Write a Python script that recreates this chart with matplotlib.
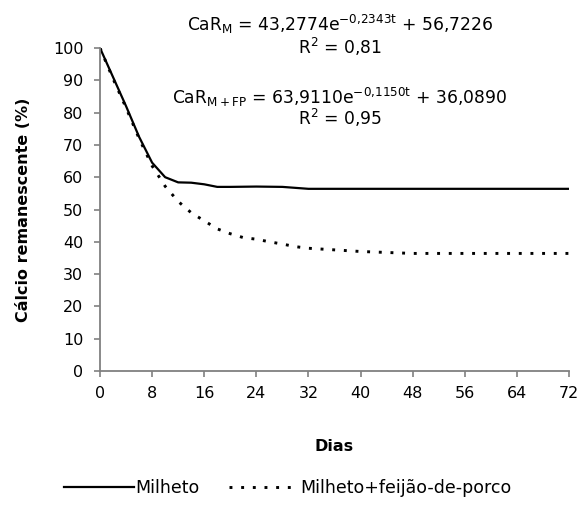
import matplotlib
matplotlib.use("Agg")
import matplotlib.pyplot as plt
from matplotlib.lines import Line2D

plt.rcParams['font.family'] = ['DejaVu Sans']
plt.rcParams['mathtext.fontset'] = 'custom'
plt.rcParams['mathtext.rm'] = 'DejaVu Sans'
plt.rcParams['mathtext.it'] = 'DejaVu Sans'
plt.rcParams['mathtext.bf'] = 'DejaVu Sans:bold'

# Data
dias_m = [0, 2, 4, 6, 8, 10, 12, 14, 16, 18, 20, 24, 28, 32, 36, 40, 48, 56, 64, 72]
milheto = [100, 91, 82, 72.5, 64.5, 60.0, 58.4, 58.3, 57.8, 57.0, 57.0, 57.1, 57.0,
           56.4, 56.4, 56.4, 56.4, 56.4, 56.4, 56.4]

dias_fp = [0, 2, 4, 6, 8, 10, 12, 14, 16, 18, 20, 22, 24, 26, 28, 30, 32, 36, 40,
           44, 48, 56, 64, 72]
milheto_fp = [100, 90.5, 81.5, 72.0, 63.5, 57.2, 52.5, 49.0, 46.5, 44.0, 42.5, 41.3,
              40.8, 40.0, 39.3, 38.5, 38.0, 37.5, 37.0, 36.7, 36.4, 36.4, 36.4, 36.4]

xticks = [0, 8, 16, 24, 32, 40, 48, 56, 64, 72]
yticks = [0, 10, 20, 30, 40, 50, 60, 70, 80, 90, 100]

eq_m = r"CaR$_\mathregular{M}$ = 43,2774e$^\mathregular{-0{,}2343t}$ + 56,7226"
r2_m = r"R$^\mathregular{2}$ = 0,81"
eq_fp = r"CaR$_\mathregular{M+FP}$ = 63,9110e$^\mathregular{-0{,}1150t}$ + 36,0890"
r2_fp = r"R$^\mathregular{2}$ = 0,95"

fig = plt.figure(figsize=(5.82, 5.2), dpi=100)
ax = fig.add_axes([100/582, 1-371/520, 469/582, 323/520])

grey = '#808080'
dot_style = (0, (1, 3))
ax.plot(dias_m, milheto, color='black', lw=1.6, solid_joinstyle='round')
ax.plot(dias_fp, milheto_fp, color='black', lw=2.1, linestyle=dot_style,
        dash_capstyle='butt')

ax.set_xlim(0, 72)
ax.set_ylim(0, 100)
ax.set_xticks(xticks)
ax.set_yticks(yticks)
ax.tick_params(axis='both', direction='out', length=4, width=1.2, color=grey,
               labelsize=11.5)
ax.tick_params(axis='y', pad=8)
ax.tick_params(axis='x', pad=7)
for s in ['top', 'right']:
    ax.spines[s].set_visible(False)
for s in ['left', 'bottom']:
    ax.spines[s].set_color(grey)
    ax.spines[s].set_linewidth(1.3)

ax.set_xlabel('Dias', fontsize=11.5, fontweight='bold', labelpad=27)
ax.set_ylabel('Cálcio remanescente (%)', fontsize=11.5, fontweight='bold', labelpad=16)

fs = 12.3
fig.text(340/582, 1-24/520, eq_m, ha='center', va='center', fontsize=fs)
fig.text(340/582, 1-47/520, r2_m, ha='center', va='center', fontsize=fs)
fig.text(340/582, 1-97/520, eq_fp, ha='center', va='center', fontsize=fs)
fig.text(340/582, 1-118/520, r2_fp, ha='center', va='center', fontsize=fs)

handles = [Line2D([], [], color='black', lw=1.6),
           Line2D([], [], color='black', lw=2.1, linestyle=dot_style, dash_capstyle='butt')]
fig.legend(handles, ['Milheto', 'Milheto+feijão-de-porco'], loc='center',
           bbox_to_anchor=(288/582, 1-488/520), ncol=2, frameon=False,
           fontsize=12.5, handlelength=4.0, handletextpad=0.1, columnspacing=1.7)

fig.savefig('out.png', dpi=100)
